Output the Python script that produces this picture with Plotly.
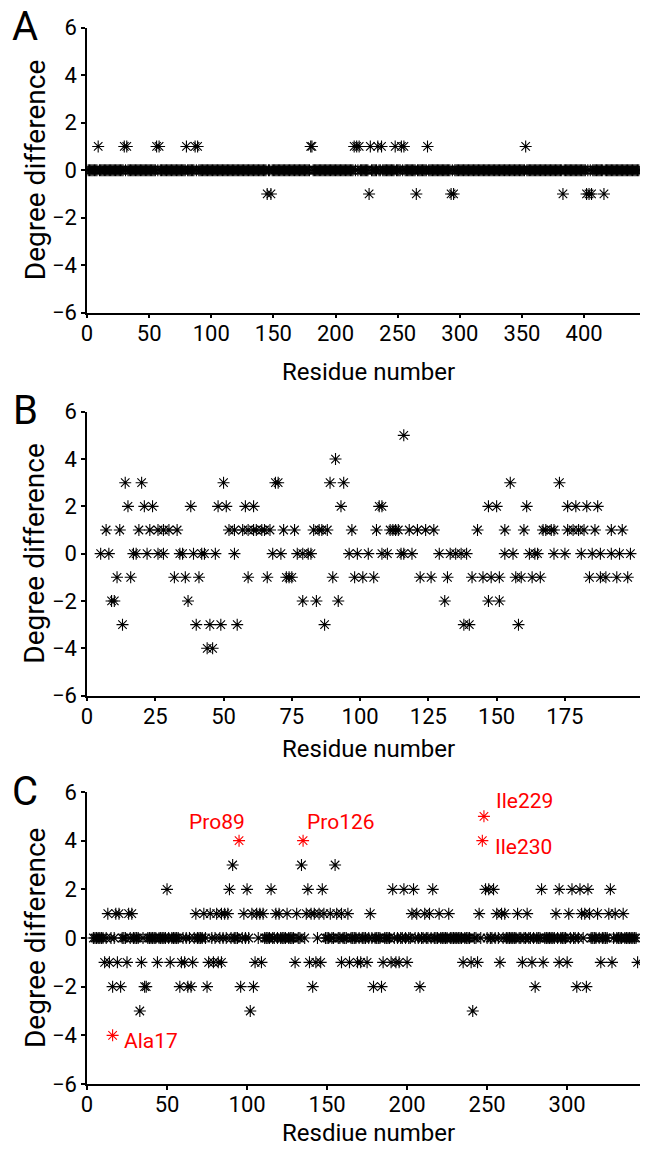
import plotly.graph_objects as go

# ---------------- Panel A (values -1, 0, +1; unlisted residues are 0) ----------------
A_residues = list(range(1, 445))
A_plus1 = [9, 30, 32, 56, 58, 80, 87, 89, 180, 181, 215, 217, 219, 228, 234, 237, 248, 253, 255, 274, 353]
A_minus1 = [145, 148, 227, 265, 293, 295, 383, 402, 404, 406, 416]

# ---------------- Panel B (residues per degree difference) ----------------
B_rows = {
    5: [116],
    4: [91],
    3: [14, 20, 50, 69, 70, 89, 94, 155, 173],
    2: [15, 21, 24, 38, 48, 51, 58, 61, 93, 107, 108, 147, 150, 161, 176, 179, 183, 187],
    1: [7, 12, 19, 23, 26, 28, 30, 33, 52, 54, 57, 59, 61, 62, 64, 65, 67, 72, 76, 83, 85, 86, 88, 97,
        106, 111, 112, 113, 114, 118, 121, 124, 127, 143, 153, 160, 167, 168, 170, 171, 176, 178, 180,
        182, 186, 192, 196],
    0: [5, 8, 17, 18, 22, 26, 28, 34, 35, 39, 42, 43, 47, 54, 68, 71, 77, 79, 81, 82, 96, 99, 103, 108,
        110, 115, 116, 119, 129, 133, 135, 137, 139, 153, 156, 162, 164, 165, 171, 175, 181, 185, 188,
        192, 195, 199],
    -1: [11, 16, 32, 36, 41, 59, 66, 73, 74, 75, 90, 98, 101, 105, 122, 126, 132, 141, 145, 148, 151,
         157, 159, 163, 166, 184, 188, 190, 194, 198],
    -2: [9, 10, 37, 79, 84, 92, 131, 147, 151],
    -3: [13, 40, 45, 49, 55, 87, 138, 140, 158],
    -4: [44, 46],
}

# ---------------- Panel C (non-zero residues per degree difference; residues 4..343 otherwise 0) ----------------
C_residues = list(range(4, 344))
C_rows = {
    3: [91, 134, 155],
    2: [50, 89, 100, 115, 138, 147, 191, 198, 204, 216, 249, 251, 254, 284, 295, 303, 308, 313, 327],
    1: [13, 18, 20, 26, 28, 68, 73, 77, 81, 84, 86, 88, 98, 103, 106, 108, 110, 118, 120, 125, 131, 137,
        140, 142, 145, 148, 152, 156, 159, 163, 177, 203, 206, 211, 214, 220, 226, 245, 256, 259, 261,
        269, 275, 293, 301, 309, 311, 314, 319, 326, 330, 335],
    -1: [11, 14, 19, 25, 34, 44, 52, 59, 61, 66, 76, 79, 82, 84, 105, 109, 130, 139, 143, 146, 159, 164,
         169, 171, 175, 185, 190, 193, 195, 200, 235, 240, 244, 258, 272, 278, 285, 295, 300, 321, 328, 344],
    -2: [16, 21, 36, 37, 58, 63, 65, 75, 96, 104, 141, 179, 184, 208, 280, 306, 312],
    -3: [33, 102, 241],
}
C_red_names = ["Ala17", "Pro89", "Pro126", "Ile229", "Ile230"]
C_red_x = [16, 95, 135, 248, 247]
C_red_vals = [-4, 4, 4, 5, 4]

y_ticks = [-6, -4, -2, 0, 2, 4, 6]
A_xticks = [0, 50, 100, 150, 200, 250, 300, 350, 400]
B_xticks = [0, 25, 50, 75, 100, 125, 150, 175]
C_xticks = [0, 50, 100, 150, 200, 250, 300]

# ---------------- build series ----------------
A_y = [1 if r in A_plus1 else (-1 if r in A_minus1 else 0) for r in A_residues]

B_x, B_y = [], []
for v, rs in B_rows.items():
    B_x += rs
    B_y += [v] * len(rs)

C_taken = set(C_red_x)
for rs in C_rows.values():
    C_taken.update(rs)
C_x = [r for r in C_residues if r not in C_taken]
C_y = [0] * len(C_x)
for v, rs in C_rows.items():
    C_x += rs
    C_y += [v] * len(rs)

W, H = 645, 1149
FONT = "Roboto, Noto Sans, sans-serif"
marker = dict(symbol="asterisk-open", size=10, color="black", line=dict(color="black", width=1.1))
red_marker = dict(symbol="asterisk-open", size=10, color="red", line=dict(color="red", width=1.1))

fig = go.Figure()
fig.add_trace(go.Scatter(x=A_residues, y=A_y, mode="markers", marker=marker, xaxis="x", yaxis="y"))
fig.add_trace(go.Scatter(x=B_x, y=B_y, mode="markers", marker=marker, xaxis="x2", yaxis="y2"))
fig.add_trace(go.Scatter(x=C_x, y=C_y, mode="markers", marker=marker, xaxis="x3", yaxis="y3"))
fig.add_trace(go.Scatter(x=C_red_x, y=C_red_vals, mode="markers", marker=red_marker, xaxis="x3", yaxis="y3"))

X0, X1 = 87, 640
panels = [  # (top px, bottom px, x-title offset)
    (27.7, 312.7, 59),
    (411.7, 695.6, 53),
    (792, 1084, 49),
]


def ydom(top, bottom):
    return [1 - bottom / H, 1 - top / H]


common = dict(showline=True, linecolor="black", linewidth=1.5, ticks="outside", ticklen=4,
              tickwidth=1.5, tickcolor="black", showgrid=False, zeroline=False, automargin=False,
              tickfont=dict(family=FONT, size=22, color="black"))


def xax(rng, ticks, anchor):
    return dict(domain=[X0 / W, X1 / W], range=rng, tickvals=ticks, anchor=anchor,
                ticklabelstandoff=-4, **common)


def yax(dom, anchor):
    return dict(domain=dom, range=[-6, 6], tickvals=y_ticks, anchor=anchor, **common)


annotations = []
x_titles = ["Residue number", "Residue number", "Resdiue number"]
for (top, bottom, off), letter, xt in zip(panels, ["A", "B", "C"], x_titles):
    annotations.append(dict(text=letter, x=25 / W, y=1 - (top - 1) / H, xref="paper", yref="paper",
                            showarrow=False, xanchor="center", yanchor="middle",
                            font=dict(family=FONT, size=40, color="black")))
    annotations.append(dict(text=xt, x=369 / W, y=1 - (bottom + off) / H, xref="paper", yref="paper",
                            showarrow=False, xanchor="center", yanchor="middle",
                            font=dict(family=FONT, size=24, color="black")))
    annotations.append(dict(text="Degree difference", x=35 / W, y=1 - (top + bottom) / 2 / H,
                            xref="paper", yref="paper", showarrow=False, textangle=-90,
                            xanchor="center", yanchor="middle",
                            font=dict(family=FONT, size=28, color="black")))

red_font = dict(family=FONT, size=21, color="red")
label_pos = {
    "Ala17": dict(xanchor="left", yanchor="middle", xshift=9, yshift=-6),
    "Pro89": dict(xanchor="right", yanchor="middle", xshift=8, yshift=19),
    "Pro126": dict(xanchor="left", yanchor="middle", xshift=2, yshift=19),
    "Ile229": dict(xanchor="left", yanchor="middle", xshift=10, yshift=15),
    "Ile230": dict(xanchor="left", yanchor="middle", xshift=11, yshift=-6),
}
for name, r, v in zip(C_red_names, C_red_x, C_red_vals):
    annotations.append(dict(text=name, x=r, y=v, xref="x3", yref="y3", showarrow=False,
                            font=red_font, **label_pos[name]))

fig.update_layout(
    width=W, height=H,
    margin=dict(l=0, r=0, t=0, b=0),
    paper_bgcolor="white", plot_bgcolor="white",
    showlegend=False,
    xaxis=xax([0, 445], A_xticks, "y"),
    yaxis=yax(ydom(*panels[0][:2]), "x"),
    xaxis2=xax([0, 202.5], B_xticks, "y2"),
    yaxis2=yax(ydom(*panels[1][:2]), "x2"),
    xaxis3=xax([0, 345.5], C_xticks, "y3"),
    yaxis3=yax(ydom(*panels[2][:2]), "x3"),
    annotations=annotations,
)

fig.write_html("out.html", config={"displayModeBar": False},
               post_script="document.body.style.margin='0px';")
